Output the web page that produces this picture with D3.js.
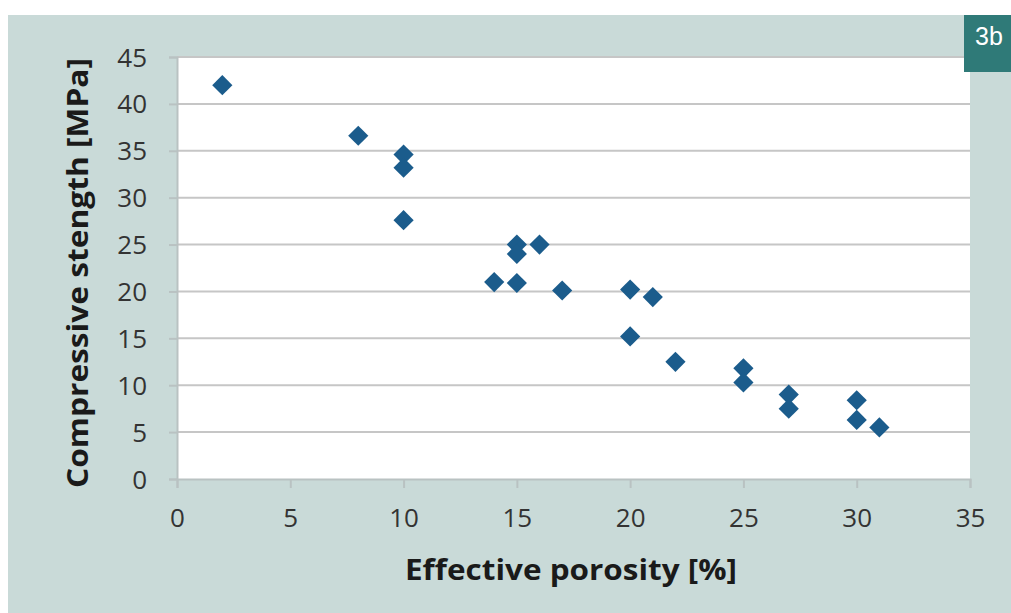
<!DOCTYPE html>
<meta charset="utf-8">
<title>Compressive strength vs effective porosity</title>
<style>
body { margin: 0; background: #fff; }
svg { display: block; font-family: "Open Sans", sans-serif; }
.grid line { stroke: #c6c6c6; stroke-width: 2; }
</style>
<svg width="1011" height="613"></svg>
<script src="https://cdn.jsdelivr.net/npm/d3@7"></script>
<script>

// porosity [%] and matching strength [MPa]
var porosity = [2, 8, 10, 10, 10, 15, 15, 16, 14, 15, 17, 20, 21, 20, 22, 25, 25, 27, 27, 30, 30, 31];
var strength = [42.0, 36.6, 34.6, 33.2, 27.6, 25.0, 24.0, 25.0, 21.0, 20.9, 20.1, 20.2, 19.4, 15.2, 12.5, 11.8, 10.3, 9.0, 7.5, 8.4, 6.3, 5.5];
var xTicks = [0, 5, 10, 15, 20, 25, 30, 35];
var yTicks = [0, 5, 10, 15, 20, 25, 30, 35, 40, 45];

var svg = d3.select("svg");

// panel background
svg.append("rect")
    .attr("x", 8).attr("y", 15)
    .attr("width", 1003).attr("height", 598)
    .attr("fill", "#c9dad8");

var x = d3.scaleLinear().domain([0, 35]).range([177, 970]);
var y = d3.scaleLinear().domain([0, 45]).range([479, 57]);

// white plot area
svg.append("rect")
    .attr("x", x(0)).attr("y", y(45))
    .attr("width", x(35) - x(0)).attr("height", y(0) - y(45))
    .attr("fill", "#fff");

// horizontal gridlines
svg.append("g")
    .attr("class", "grid")
  .selectAll("line")
    .data(yTicks.filter(function(d) { return d > 0; }))
  .enter().append("line")
    .attr("x1", x(0)).attr("x2", x(35))
    .attr("y1", function(d) { return y(d); })
    .attr("y2", function(d) { return y(d); });

// y axis
var yAxis = svg.append("g")
    .attr("transform", "translate(" + x(0) + ",0)")
    .call(d3.axisLeft(y).tickValues(yTicks).tickSize(8).tickPadding(22));
yAxis.select(".domain").attr("stroke", "#b9c2c2").attr("stroke-width", 2);
yAxis.selectAll(".tick line").attr("stroke", "#b9c2c2").attr("stroke-width", 2);
yAxis.selectAll("text")
    .attr("font-size", 26)
    .attr("fill", "#333")
    .attr("dy", "0.35em")
    .style("font-family", "'Open Sans', sans-serif");

// x axis
var xAxis = svg.append("g")
    .attr("transform", "translate(0," + y(0) + ")")
    .call(d3.axisBottom(x).tickValues(xTicks).tickSize(9).tickPadding(21));
xAxis.select(".domain").attr("stroke", "#b9c2c2").attr("stroke-width", 2);
xAxis.selectAll(".tick line").attr("stroke", "#b9c2c2").attr("stroke-width", 2);
xAxis.selectAll("text")
    .attr("font-size", 26)
    .attr("fill", "#333")
    .style("font-family", "'Open Sans', sans-serif");

// diamonds
var points = porosity.map(function(p, i) { return [p, strength[i]]; });
svg.append("g")
  .selectAll("path")
    .data(points)
  .enter().append("path")
    .attr("transform", function(d) { return "translate(" + x(d[0]) + "," + y(d[1]) + ")"; })
    .attr("d", d3.symbol().type(d3.symbolDiamond2).size(260))
    .attr("fill", "#1b5c8c");

// axis titles
svg.append("text")
    .attr("x", 571).attr("y", 580)
    .attr("text-anchor", "middle")
    .attr("font-size", 29)
    .attr("font-weight", "bold")
    .attr("fill", "#1a1a1a")
    .attr("textLength", 332)
    .attr("lengthAdjust", "spacingAndGlyphs")
    .text("Effective porosity [%]");

svg.append("text")
    .attr("transform", "translate(88,273) rotate(-90)")
    .attr("text-anchor", "middle")
    .attr("font-size", 29)
    .attr("font-weight", "bold")
    .attr("fill", "#1a1a1a")
    .attr("textLength", 430)
    .attr("lengthAdjust", "spacingAndGlyphs")
    .text("Compressive stength [MPa]");

// panel tag
svg.append("rect")
    .attr("x", 964).attr("y", 15)
    .attr("width", 47).attr("height", 57)
    .attr("fill", "#2f7a78");
svg.append("text")
    .attr("x", 975).attr("y", 45)
    .attr("font-size", 25)
    .attr("fill", "#fff")
    .style("font-family", "'Liberation Sans', Arial, sans-serif")
    .text("3b");

</script>
